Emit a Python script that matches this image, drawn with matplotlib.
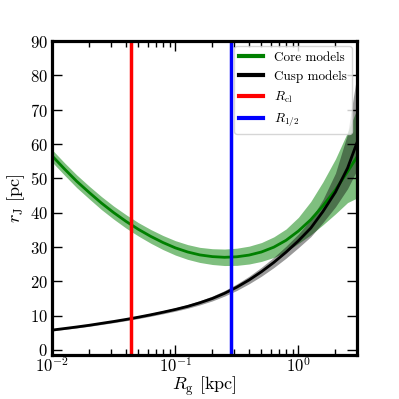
import numpy as np
import matplotlib
matplotlib.use("Agg")
import matplotlib.pyplot as plt

# values (R_g in kpc, r_J in pc)
r_g = [0.01, 0.0126, 0.0158, 0.02, 0.0251, 0.0316, 0.0398, 0.0501, 0.0631, 0.0794,
       0.1, 0.126, 0.158, 0.2, 0.251, 0.316, 0.398, 0.501, 0.631, 0.794,
       1.0, 1.26, 1.58, 2.0, 2.51, 3.0]

core_mid = [56.5, 52.7, 49.15, 45.85, 42.8, 40.0, 37.45, 35.15, 33.1, 31.3,
            29.75, 28.55, 27.7, 27.2, 27.0, 27.15, 27.65, 28.55, 29.95, 31.95,
            34.65, 37.95, 41.95, 46.65, 51.95, 56.3]
core_lo = [54.7, 50.9, 47.3, 44.0, 40.9, 38.1, 35.5, 33.2, 31.1, 29.25,
           27.65, 26.4, 25.5, 24.9, 24.6, 24.65, 25.05, 25.8, 26.95, 28.65,
           31.05, 33.55, 36.45, 39.65, 42.95, 44.3]
core_hi = [58.3, 54.5, 51.0, 47.7, 44.7, 41.9, 39.4, 37.1, 35.1, 33.35,
           31.85, 30.7, 29.9, 29.5, 29.4, 29.65, 30.25, 31.3, 32.95, 35.25,
           38.65, 43.25, 48.95, 55.65, 63.45, 70.3]

cusp_mid = [5.8, 6.25, 6.7, 7.2, 7.75, 8.3, 8.9, 9.55, 10.25, 11.0,
            11.8, 12.7, 13.75, 15.0, 16.5, 18.3, 20.4, 22.8, 25.5, 28.5,
            31.8, 35.5, 40.3, 46.0, 53.0, 60.5]
cusp_lo = [5.55, 5.98, 6.41, 6.89, 7.42, 7.95, 8.53, 9.15, 9.82, 10.54,
           11.3, 12.15, 13.13, 14.3, 15.7, 17.35, 19.3, 21.5, 24.0, 26.75,
           29.8, 33.0, 37.1, 41.7, 47.0, 52.5]
cusp_hi = [6.05, 6.52, 6.99, 7.51, 8.08, 8.65, 9.27, 9.95, 10.68, 11.46,
           12.3, 13.25, 14.37, 15.7, 17.3, 19.25, 21.5, 24.1, 27.0, 30.25,
           33.8, 38.0, 43.8, 51.5, 63.0, 80.5]

r_cl = 0.0435    # kpc
r_half = 0.283   # kpc

plt.rcParams["font.family"] = "serif"
plt.rcParams["font.serif"] = ["cmr10", "DejaVu Serif"]
plt.rcParams["mathtext.fontset"] = "cm"
plt.rcParams["axes.formatter.use_mathtext"] = True
plt.rcParams["axes.unicode_minus"] = False

fig = plt.figure(figsize=(3.99, 3.99), dpi=100)
ax = fig.add_axes([0.131, 0.11, 0.764, 0.787])

ax.fill_between(r_g, core_lo, core_hi, color="green", alpha=0.5, lw=0)
ax.plot(r_g, core_mid, color="green", lw=2, label="Core models")
ax.fill_between(r_g, cusp_lo, cusp_hi, color="black", alpha=0.4, lw=0)
ax.plot(r_g, cusp_mid, color="black", lw=2, label="Cusp models")
ax.axvline(r_cl, color="red", lw=2.5, label=r"$R_{\rm cl}$")
ax.axvline(r_half, color="blue", lw=2.5, label=r"$R_{1/2}$")

ax.set_xscale("log")
ax.set_xlim(0.01, 3)
ax.set_ylim(-1.5, 90)
ax.set_yticks(np.arange(0, 91, 10))
ax.set_xlabel(r"$R_{\rm g}$ [kpc]", fontsize=13, labelpad=-1)
ax.set_ylabel(r"$r_{\rm J}$ [pc]", fontsize=13, labelpad=2)

ax.tick_params(which="both", direction="in", top=True, right=True, labelsize=12)
ax.tick_params(which="major", length=7, width=1, pad=3)
ax.tick_params(axis="x", which="both", pad=1)
ax.tick_params(which="minor", length=4, width=1)
for s in ax.spines.values():
    s.set_linewidth(2.3)

leg = ax.legend(loc="upper right", fontsize=9.5, handlelength=1.8, borderaxespad=0.4)
for line in leg.get_lines():
    line.set_linewidth(3)

fig.savefig("out.png", dpi=100)
